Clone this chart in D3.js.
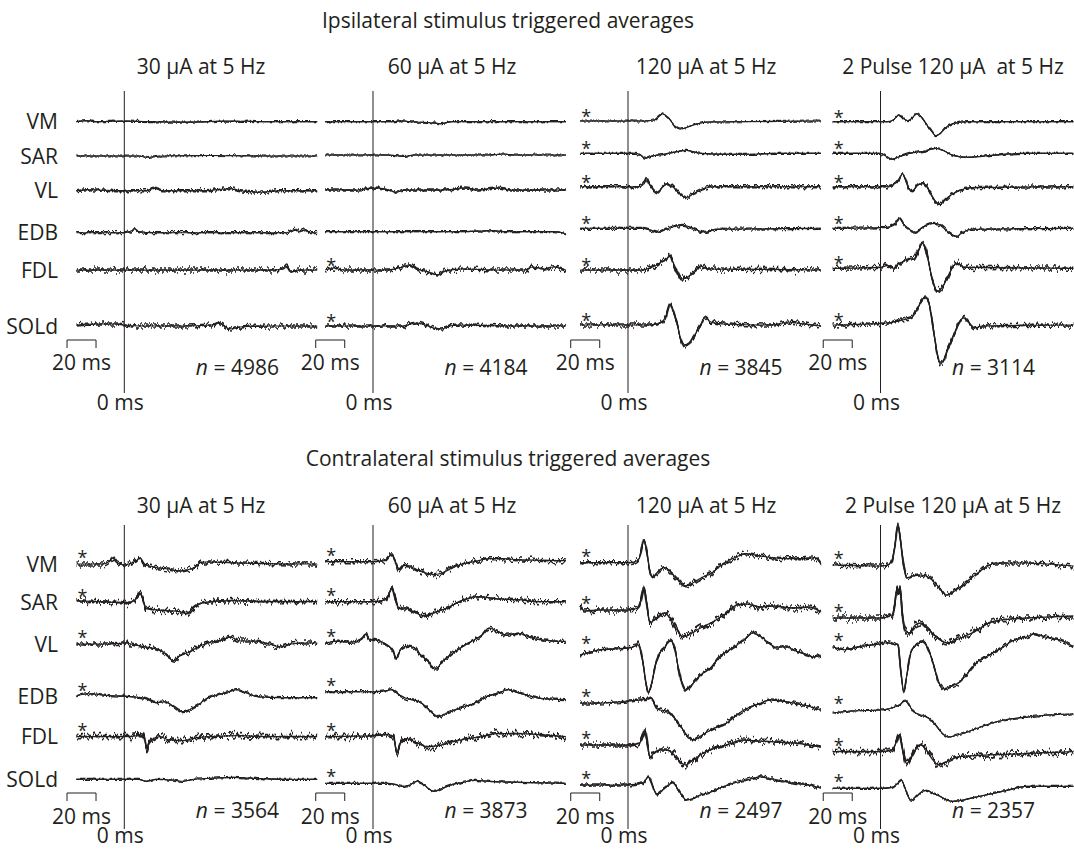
<!DOCTYPE html>
<html>
<head>
<meta charset="utf-8">
<script src="https://cdn.jsdelivr.net/npm/d3@7"></script>
<style>
  body { margin: 0; background: #fff; }
  text { font-family: "Open Sans", sans-serif; fill: #231f20; }
</style>
</head>
<body>
<div id="chart"></div>
<script>
var WIDTH = 1074, HEIGHT = 855;
var INK = '#231f20';

// ---------------- data ----------------
var muscles = ['VM', 'SAR', 'VL', 'EDB', 'FDL', 'SOLd'];
var ipsiTitles = ['30 µA at 5 Hz', '60 µA at 5 Hz', '120 µA at 5 Hz', '2 Pulse 120 µA  at 5 Hz'];
var contraTitles = ['30 µA at 5 Hz', '60 µA at 5 Hz', '120 µA at 5 Hz', '2 Pulse 120 µA at 5 Hz'];
var ipsiCounts = [4986, 4184, 3845, 3114];
var contraCounts = [3564, 3873, 2497, 2357];

// which traces carry an asterisk (VM..SOLd)
var ipsiStars = [[0,0,0,0,0,0], [0,0,0,0,1,1], [1,1,1,1,1,1], [1,1,1,1,1,1]];
var contraStars = [[1,1,1,1,1,0], [1,1,1,1,1,1], [1,1,1,1,1,1], [1,1,1,1,1,1]];

// traces: [time (ms), amplitude (a.u.)], one per muscle
var ipsi30 = [
  [[-33,0],[-26,1],[-20,0],[0,0.5],[20,0],[45,-0.5],[70,0.5],[100,0],[133,0]],
  [[-33,0],[0,0],[10,0],[16,-1.5],[25,0],[60,0.5],[100,0],[133,0]],
  [[-33,0],[-25,1],[0,0],[15,0],[21,2.5],[26,0],[55,0],[73,2],[80,0],[96,-1.5],[105,0],[133,0]],
  [[-33,0],[-20,0],[0,0],[5,2],[7,4],[10,1],[20,0],[60,0],[100,0],[112,0],[118,3.5],[121,1],[125,3],[128,0],[133,0]],
  [[-33,0],[0,0],[50,0],[100,0],[110,1],[112,4],[115,-2],[120,0],[133,0]],
  [[-33,1],[-20,2],[-5,2],[0,1],[10,0],[40,0],[60,1],[65,4],[68,1],[73,-3],[80,-1],[100,0],[133,0]]
];
var ipsi60 = [
  [[-33,0],[0,0],[15,0],[19,1],[25,0],[40,-1],[47,-2],[54,0],[133,0]],
  [[-33,0],[10,0],[18,-1],[22,-1.5],[28,0],[80,0],[90,1],[97,0],[133,0]],
  [[-33,0],[-10,0],[0,2],[8,1],[16,-2],[22,0],[50,0],[64,2],[72,0],[86,2],[95,0],[133,0]],
  [[-33,0],[20,0],[60,0],[83,1],[90,0],[125,0],[133,-2]],
  [[-33,0],[-28,2],[-20,0],[0,0],[10,0],[20,3],[25,5],[30,1],[38,-2],[44.6,-5],[50,-1],[60,1],[90,0],[105,0],[110,3],[118,1],[124,3],[133,0]],
  [[-33,0],[0,0],[20,0],[30,3],[36,1],[42,-2],[47,-3],[53,0],[60,1],[100,0],[133,0]]
];
var ipsi120 = [
  [[-33,0],[10,0],[18,1],[24,7],[28,3],[33,-6],[36,-8],[45,-4],[55,-1],[133,0]],
  [[-33,0],[5,0],[8,-1],[12,-5],[16,-3],[25,-1],[35,2],[40,3],[50,0],[70,-1],[85,-1],[100,0],[133,0]],
  [[-33,0],[8,0],[11,3],[13,8],[15,2],[20,-6],[24,0],[27,3],[30,1],[35,-6],[40,-11],[45,-7],[52,-2],[60,0],[133,0]],
  [[-33,0],[10,0],[16,-2],[20.7,-4],[26,-1],[33,2],[38,3],[45,0],[50,-3],[54,-4],[60,-1],[133,0]],
  [[-33,0],[10,0],[15,2],[20,5],[23,8],[26,10],[29,14],[31,8],[34,-2],[37,-9],[41,-7],[46,-2],[50,4],[55,1],[133,0]],
  [[-33,0],[15,0],[22,2],[26,8],[29,20],[31,14],[34,0],[36,-12],[39,-21],[42,-19],[46,-10],[50,0],[53,8],[57,3],[65,1],[100,0],[110,3],[116,2],[133,-1]]
];
var ipsi2p = [
  [[-33,0],[5,0],[9,2],[13,7],[16,3],[19,1],[22,4],[25,8],[28,5],[32,-3],[36,-11],[38,-14],[41,-12],[45,-6],[50,-2],[60,0],[133,0]],
  [[-33,0],[0,0],[4,-3],[8,-6],[12,-4],[20,0],[30,2],[38,5],[43,3],[50,-2],[60,-4],[70,-3],[85,-1],[100,0],[133,0]],
  [[-33,0],[5,0],[10,3],[13,8],[15,13],[17,8],[20,-3],[22,-4],[26,2],[29,3],[32,0],[35,-8],[38,-15],[41,-18],[44,-14],[48,-9],[54,-4],[62,-1],[133,0]],
  [[-33,0],[5,1],[10,4],[13,10],[16,4],[20,-1],[24,-4],[28,0],[33,4],[38,5],[42,2],[47,-4],[52,-8],[56,-5],[62,-1],[133,0]],
  [[-33,0],[0,1],[5,3],[9,0],[12,4],[16,7],[20,10],[23,9],[26,17],[29,25],[31,20],[34,0],[36,-12],[39,-23],[42,-20],[46,-10],[50,2],[53,5],[58,1],[133,0]],
  [[-33,0],[5,2],[12,4],[18,6],[22,8],[26,18],[29,26],[31,28],[33,24],[35,10],[37,-10],[39,-28],[41,-38],[43,-37],[47,-22],[51,-8],[54,2],[57,7],[61,2],[65,-3],[70,-1],[133,0]]
];
var contra30 = [
  [[-33,0],[-15,0],[-10,3],[-8,6],[-5,1],[0,-1],[5,1],[9,4],[11,6],[14,0],[20,-3],[30,-5],[38,-7],[43,-6],[50,-2],[53,2],[60,2],[80,1],[133,0]],
  [[-33,2],[-20,1],[0,0],[5,1],[9,5],[11,9],[13,3],[15,-6],[20,-7],[30,-8],[38,-9],[43,-11],[47,-6],[52,-1],[60,1],[75,2],[100,1],[133,1]],
  [[-33,0],[-10,0],[0,1],[8,-1],[15,-3],[22,-5],[27,-8],[31,-14],[34,-17],[38,-12],[45,-8],[52,-2],[60,2],[68,4],[73,7],[80,3],[90,3],[100,0],[108,-3],[115,0],[125,1],[133,1]],
  [[-33,1],[-25,3],[-10,1],[5,0],[15,-2],[22,-6],[28,-5],[34,-10],[40,-15],[45,-13],[52,-7],[58,-1],[65,2],[72,5],[78,7],[84,4],[92,0],[110,-1],[133,-1]],
  [[-33,0],[0,0],[10,1],[12,3],[14,-2],[15.5,-12],[17,-6],[20,-2],[25,0],[30,-3],[40,-4],[50,-1],[60,0],[80,1],[100,0],[133,0]],
  [[-33,0],[0,0],[10,0],[15,-2],[22,0],[35,-1],[40,-2],[48,0],[60,1],[75,2],[90,1],[110,0],[133,0]]
];
var contra60 = [
  [[-33,0],[0,0],[8,1],[11,5],[13,7],[15,2],[18,-8],[21,-4],[24,-4],[30,-8],[36,-11],[42,-13],[48,-11],[55,-6],[62,-2],[70,0],[80,3],[90,3],[100,2],[133,1]],
  [[-33,0],[0,0],[9,2],[11,8],[13,14],[15,5],[18,-7],[22,-6],[28,-10],[35,-14],[42,-11],[50,-7],[58,-1],[65,3],[72,5],[85,3],[100,2],[115,0],[133,0]],
  [[-33,0],[-25,2],[-15,1],[-8,5],[-5,9],[-2,3],[0,4],[5,2],[10,-2],[14,-8],[16,-15],[19,-6],[24,-3],[28,-4],[33,-12],[38,-18],[43,-26],[48,-18],[55,-10],[62,-3],[68,2],[75,8],[80,15],[86,12],[92,8],[100,10],[110,5],[120,3],[128,2],[133,2]],
  [[-33,0],[0,0],[10,1],[13,2],[18,-3],[23.6,-7],[30,-9],[35,-13],[40,-20],[44.7,-25],[50,-22],[57,-18],[63,-15],[69,-12],[78,-5],[89,0],[93,2],[100,-1],[105,-3],[117,-7],[133,-8]],
  [[-33,0],[0,1],[10,2],[14,0],[16.5,-16],[19,-6],[23,-2],[30,-6],[38,-10],[45,-9],[55,-5],[65,-2],[75,0],[85,3],[100,3],[115,2],[133,0]],
  [[-33,0],[0,0],[10,0],[15,-1],[20,-3],[25,-2],[30,2],[34,0],[38,-5],[42,-8],[48,-5],[55,-1],[62,1],[70,3],[80,2],[100,1],[133,0]]
];
var contra120 = [
  [[-33,0],[0,0],[5,1],[8,5],[11,23],[13,10],[15,-8],[17,-15],[20,-10],[25,-5],[28,-7],[33,-15],[38,-22],[41,-23],[46,-19],[52,-14],[57,-11],[63,-4],[68,1],[75,6],[81,9],[90,7],[100,5],[110,4],[120,4],[129,5],[133,-1]],
  [[-33,4],[-30,-1],[-20,0],[0,0],[7,2],[9,10],[11,23],[13,5],[15,-13],[18,-10],[22,-5],[25,-3],[29,-8],[33,-18],[38,-27],[43,-24],[50,-18],[57,-13],[63,-8],[68,-3],[75,5],[82,6],[91,3],[100,4],[114,2],[125,3],[133,-2]],
  [[-33,-5],[-28,-3],[-20,0],[-10,1],[0,2],[5,4],[7,8],[10,-10],[12,-30],[14,-43],[16,-35],[19,-15],[22,-3],[25,2],[29,10],[32,3],[35,-20],[38,-36],[40,-40],[44,-35],[50,-25],[57,-18],[63,-7],[72,2],[80,10],[86,17],[92,13],[102,3],[110,3],[114,0],[122,-4],[128,-7],[133,-5]],
  [[-33,0],[-20,0],[0,2],[8,3],[14,4],[16,5],[19,-3],[22,-7],[27,-8],[32,-15],[37,-25],[41,-33],[45,-37],[50,-33],[57,-27],[63,-23],[68,-20],[74,-13],[80,-7],[90,-1],[98,3],[106,2],[114,0],[124,-3],[133,-7]],
  [[-33,0],[0,0],[8,2],[10,8],[11.7,15],[13,5],[15,-12],[18,-8],[22,-5],[26,-5],[29,-6],[33,-12],[37,-18],[40,-20],[44,-16],[52,-8],[60,-3],[68,0],[79,5],[90,4],[102,3],[115,2],[133,-2]],
  [[-33,0],[0,0],[10,2],[14,8],[16,3],[18,-5],[20,-9],[24,-5],[28,0],[31,2],[34,-3],[37,-10],[40,-15],[44,-14],[50,-10],[57,-7],[65,-2],[73,2],[82,5],[91,8],[100,6],[114,2],[125,0],[133,-3]]
];
var contra2p = [
  [[-33,0],[0,-1],[5,0],[8,5],[10,20],[12,40],[14,22],[16,0],[18,-13],[22,-11],[28,-10],[34,-13],[40,-22],[46,-30],[50,-27],[55,-22],[61,-15],[67,-8],[73,-2],[79,2],[90,2],[100,2],[115,1],[133,-1]],
  [[-33,0],[0,0],[8,3],[10,15],[11.5,30],[12.5,24],[13.5,32],[15,5],[17,-12],[20,-15],[24,-7],[28,-5],[32,-10],[38,-18],[46,-25],[52,-22],[60,-17],[67,-12],[73,-6],[79,-3],[90,-1],[101,0],[115,1],[133,2]],
  [[-33,0],[-25,-3],[-15,0],[-5,2],[0,3],[5,4],[10,2],[12,3],[14,-25],[16,-45],[18,-30],[21,-5],[25,2],[29,5],[32,0],[36,-15],[40,-35],[44,-42],[48,-40],[55,-35],[61,-25],[67,-15],[73,-10],[79,-5],[85,0],[90,5],[96,8],[101,10],[106,13],[113,10],[120,8],[127,5],[133,0]],
  [[-33,-3],[-20,-1],[0,0],[8,2],[13,5],[17,9],[20,4],[23,-2],[28,-5],[33,-8],[38,-15],[43,-24],[47,-27],[53,-25],[60,-22],[67,-18],[75,-14],[85,-10],[95,-8],[102,-7],[115,-5],[133,-4]],
  [[-33,0],[0,0],[8,2],[11,10],[13,17],[15,5],[18,-12],[21,-6],[24,2],[27.6,7],[31,3],[35,-6],[40,-13],[44,-11],[50,-7],[55,-5],[65,-4],[79,-3],[100,-2],[115,-1],[133,0]],
  [[-33,0],[0,0],[8,1],[12,5],[14.5,8],[17,0],[19,-8],[21.4,-12],[25,-8],[29,-3],[32,-2],[36,-5],[41,-8],[46,-12],[50,-13],[56,-12],[65,-9],[78,-5],[90,-1],[101,2],[115,2],[133,2]]
];

// ---------------- layout / style ----------------
var lineX = [124.3, 373, 628, 880.5];          // x of the 0 ms line in each panel
var titleX = [201, 452, 706, 953];
var ipsiRowY = [
  [121.7, 156, 190.7, 232.7, 270, 326],
  [121.7, 155, 190, 231.7, 270, 326],
  [121, 153.3, 186.7, 228.3, 270, 325],
  [121.7, 153.3, 186.7, 228.3, 268.3, 325]
];
var contraRowY = [
  [564, 602.7, 644, 696.7, 736.7, 779.3],
  [561.7, 601.7, 643.3, 691.7, 736.7, 783.3],
  [562.7, 610, 650, 703, 745, 785],
  [565, 618, 646.7, 710, 751.7, 788.3]
];
// visual noise (jitter) level of each trace, VM..SOLd
var ipsiNoise = [[1,1,2,1.5,3,2.5], [1,1,1.5,1,2.5,2], [1,1,2,1.5,3,2.5], [1,1,2,1.5,3,2.5]];
var contraNoise = [[2.5,3.5,2.5,1.5,3.5,1], [2.5,3,2,1.5,3.5,1], [2.5,3.5,2,2,3.5,1.5], [2.5,3.5,2,1,3.5,1]];

var halves = [
  { title: 'Ipsilateral stimulus triggered averages', titleY: 28, panelTitleY: 74,
    lineTop: 91, lineBottom: 393, barY: 340, barTextY: 370, nY: 375, zeroY: 410, starDy: -9,
    titles: ipsiTitles, counts: ipsiCounts, stars: ipsiStars, rowY: ipsiRowY, noise: ipsiNoise,
    traces: [ipsi30, ipsi60, ipsi120, ipsi2p] },
  { title: 'Contralateral stimulus triggered averages', titleY: 466, panelTitleY: 513,
    lineTop: 525, lineBottom: 829, barY: 793, barTextY: 824, nY: 818, zeroY: 843, starDy: -11,
    titles: contraTitles, counts: contraCounts, stars: contraStars, rowY: contraRowY, noise: contraNoise,
    traces: [contra30, contra60, contra120, contra2p] }
];

var svg = d3.select('#chart')
    .append('svg')
    .attr('width', WIDTH)
    .attr('height', HEIGHT);

var defs = svg.append('defs');

// jitter filters give the averaged traces their noisy look (visual texture only)
var jitterLevels = [1, 1.5, 2, 2.5, 3, 3.5];
function jitId(level, k) { return 'jit' + k + '_' + String(level).replace('.', '_'); }
jitterLevels.forEach(function(level, i) {
    [0, 1].forEach(function(k) {
        var f = defs.append('filter')
            .attr('id', jitId(level, k))
            .attr('filterUnits', 'userSpaceOnUse')
            .attr('x', 0).attr('y', 0).attr('width', WIDTH).attr('height', HEIGHT)
            .attr('color-interpolation-filters', 'sRGB');
        f.append('feTurbulence')
            .attr('type', 'fractalNoise')
            .attr('baseFrequency', k ? '0.45 0.02' : '0.3 0.015')
            .attr('numOctaves', 2)
            .attr('seed', 3 + i * 2 + k)
            .attr('result', 'noise');
        f.append('feColorMatrix')
            .attr('in', 'noise')
            .attr('type', 'matrix')
            .attr('values', '0 0 0 0 0.5  0 1 0 0 0  0 0 1 0 0  0 0 0 0 1')
            .attr('result', 'ymap');
        f.append('feDisplacementMap')
            .attr('in', 'SourceGraphic')
            .attr('in2', 'ymap')
            .attr('scale', level * 4.5)
            .attr('xChannelSelector', 'R')
            .attr('yChannelSelector', 'G');
    });
});

halves.forEach(function(h) {
    var g = svg.append('g');

    g.append('text')
        .attr('x', 508).attr('y', h.titleY)
        .attr('text-anchor', 'middle')
        .style('font-size', '21px')
        .text(h.title);

    //row labels, next to the first panel
    muscles.forEach(function(m, r) {
        g.append('text')
            .attr('x', 58).attr('y', h.rowY[0][r] + 7.5)
            .attr('text-anchor', 'end')
            .style('font-size', '21px')
            .text(m);
    });

    h.traces.forEach(function(panel, p) {
        var x = d3.scaleLinear()
            .domain([0, 1])
            .range([lineX[p], lineX[p] + 1.45]);   // 1.45 px per ms

        var pg = g.append('g').attr('class', 'panel');

        pg.append('text')
            .attr('x', titleX[p]).attr('y', h.panelTitleY)
            .attr('text-anchor', 'middle')
            .style('font-size', '21px')
            .style('white-space', 'pre')
            .text(h.titles[p]);

        //stimulus line
        pg.append('line')
            .attr('x1', x(0)).attr('x2', x(0))
            .attr('y1', h.lineTop).attr('y2', h.lineBottom)
            .attr('stroke', INK).attr('stroke-width', 1);

        panel.forEach(function(trace, r) {
            var base = h.rowY[p][r];
            var y = d3.scaleLinear().domain([0, 1]).range([base, base - 1]);
            var line = d3.line()
                .x(function(d) { return x(d[0]); })
                .y(function(d) { return y(d[1]); })
                .curve(d3.curveMonotoneX);
            var lvl = h.noise[p][r];

            pg.append('path')
                .attr('d', line(trace))
                .attr('fill', 'none')
                .attr('stroke', INK)
                .attr('stroke-width', 0.8 + lvl * 0.15)
                .attr('stroke-linejoin', 'round');
            [0, 1].forEach(function(k) {
                pg.append('path')
                    .attr('d', line(trace))
                    .attr('fill', 'none')
                    .attr('stroke', INK)
                    .attr('stroke-width', 1 + lvl * 0.2)
                    .attr('stroke-linejoin', 'round')
                    .attr('filter', 'url(#' + jitId(lvl, k) + ')');
            });

            if (h.stars[p][r]) {
                pg.append('text')
                    .attr('x', x(trace[0][0]) + 1)
                    .attr('y', base + h.starDy + 11)
                    .style('font-size', '18px')
                    .text('*');
            }
        });

        //20 ms scale bracket
        pg.append('path')
            .attr('d', 'M' + x(-39.5) + ',' + (h.barY + 8) + 'V' + h.barY + 'H' + x(-19.5) + 'V' + (h.barY + 8))
            .attr('fill', 'none')
            .attr('stroke', INK)
            .attr('stroke-width', 1);
        pg.append('text')
            .attr('x', x(-29.5)).attr('y', h.barTextY)
            .attr('text-anchor', 'middle')
            .style('font-size', '21px')
            .text('20 ms');

        var nt = pg.append('text')
            .attr('x', x(78)).attr('y', h.nY)
            .attr('text-anchor', 'middle')
            .style('font-size', '21px');
        nt.append('tspan').style('font-style', 'italic').text('n');
        nt.append('tspan').text(' = ' + h.counts[p]);

        pg.append('text')
            .attr('x', x(0) - 4).attr('y', h.zeroY)
            .attr('text-anchor', 'middle')
            .style('font-size', '21px')
            .text('0 ms');
    });
});
</script>
</body>
</html>
